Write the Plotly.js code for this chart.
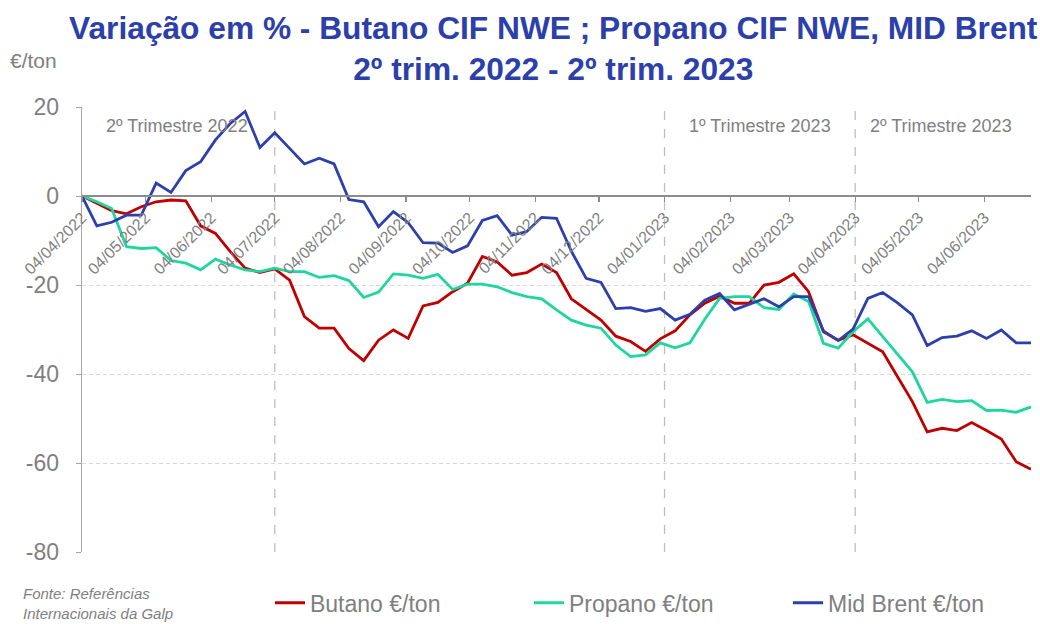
<!DOCTYPE html>
<html>
<head>
<meta charset="utf-8">
<script src="https://cdn.plot.ly/plotly-3.0.1.min.js"></script>
<style>html,body{margin:0;padding:0;background:#fff;}#chart{width:1040px;height:624px;}</style>
</head>
<body>
<div id="chart"></div>
<script>
// Weekly dates
const dates = [
 '2022-04-04','2022-04-11','2022-04-18','2022-04-25',
 '2022-05-02','2022-05-09','2022-05-16','2022-05-23','2022-05-30',
 '2022-06-06','2022-06-13','2022-06-20','2022-06-27',
 '2022-07-04','2022-07-11','2022-07-18','2022-07-25',
 '2022-08-01','2022-08-08','2022-08-15','2022-08-22','2022-08-29',
 '2022-09-05','2022-09-12','2022-09-19','2022-09-26',
 '2022-10-03','2022-10-10','2022-10-17','2022-10-24','2022-10-31',
 '2022-11-07','2022-11-14','2022-11-21','2022-11-28',
 '2022-12-05','2022-12-12','2022-12-19','2022-12-26',
 '2023-01-02','2023-01-09','2023-01-16','2023-01-23','2023-01-30',
 '2023-02-06','2023-02-13','2023-02-20','2023-02-27',
 '2023-03-06','2023-03-13','2023-03-20','2023-03-27',
 '2023-04-03','2023-04-10','2023-04-17','2023-04-24',
 '2023-05-01','2023-05-08','2023-05-15','2023-05-22','2023-05-29',
 '2023-06-05','2023-06-12','2023-06-19','2023-06-26'
];

const butano = [0, -1.7, -3.3, -4.0, -2.4, -1.3, -0.9, -1.1, -6.7, -8.4, -12.5, -16.2, -17.2, -16.4, -18.9, -27.1, -29.7, -29.7, -34.3, -37.0, -32.4, -30.1, -32.0, -24.7, -23.9, -21.5, -19.6, -13.6, -14.8, -17.8, -17.2, -15.3, -17.2, -23.1, -25.5, -27.9, -31.5, -32.7, -34.9, -32.1, -30.3, -26.7, -24.1, -22.5, -24.1, -24.1, -20.0, -19.4, -17.5, -21.5, -30.5, -32.4, -31.2, -33.1, -35.0, -40.6, -46.2, -53.0, -52.2, -52.7, -50.9, -52.7, -54.6, -59.7, -61.4];

const propano = [0, -1.3, -2.8, -11.4, -11.8, -11.6, -14.5, -15.1, -16.6, -14.2, -15.5, -16.6, -17.0, -16.2, -17.0, -17.0, -18.3, -17.9, -19.0, -22.8, -21.6, -17.5, -17.8, -18.5, -17.6, -21.0, -19.8, -19.8, -20.4, -21.7, -22.6, -23.1, -25.6, -27.9, -29.0, -29.7, -33.5, -36.1, -35.7, -33.0, -34.1, -33.0, -27.7, -23.0, -22.6, -22.6, -25.1, -25.5, -22.0, -23.7, -33.1, -34.2, -30.5, -27.6, -31.6, -35.5, -39.5, -46.4, -45.7, -46.2, -46.0, -48.2, -48.1, -48.6, -47.4];

const brent = [0, -6.7, -5.9, -4.3, -4.3, 2.9, 0.8, 5.7, 7.7, 12.6, 16.3, 19.0, 10.9, 14.2, 10.7, 7.2, 8.5, 7.2, -0.8, -1.3, -6.9, -3.5, -6.0, -10.5, -10.6, -12.7, -11.2, -5.5, -4.4, -8.8, -8.0, -4.8, -5.0, -12.4, -18.5, -19.4, -25.3, -25.1, -25.9, -25.3, -27.9, -26.6, -23.4, -21.9, -25.6, -24.3, -23.1, -24.9, -22.6, -22.6, -30.3, -32.5, -29.9, -23.0, -21.7, -24.0, -26.7, -33.6, -31.8, -31.5, -30.3, -32.0, -30.1, -33.0, -33.0];

const seriesNames = ['Butano €/ton', 'Propano €/ton', 'Mid Brent €/ton'];

const tickDates = ['2022-04-04','2022-05-04','2022-06-04','2022-07-04','2022-08-04','2022-09-04','2022-10-04','2022-11-04','2022-12-04','2023-01-04','2023-02-04','2023-03-04','2023-04-04','2023-05-04','2023-06-04'];
const tickLabels = ['04/04/2022','04/05/2022','04/06/2022','04/07/2022','04/08/2022','04/09/2022','04/10/2022','04/11/2022','04/12/2022','04/01/2023','04/02/2023','04/03/2023','04/04/2023','04/05/2023','04/06/2023'];

const yTickVals = [20, 0, -20, -40, -60, -80];
const yTickLabels = ['20', '0', '-20', '-40', '-60', '-80'];

const quarterLines = ['2022-07-04', '2023-01-04', '2023-04-04'];
const quarterLabels = ['2º Trimestre 2022', '1º Trimestre 2023', '2º Trimestre 2023'];

const titleText = 'Variação em % - Butano CIF NWE ; Propano CIF NWE, MID Brent<br>2º trim. 2022 - 2º trim. 2023';
const unitText = '€/ton';
const sourceText = '<i>Fonte: Referências<br>Internacionais da Galp</i>';

const colors = ['#C00000', '#1ED69E', '#2C3FAA'];
const FONT = 'Liberation Sans, Arial, sans-serif';
const GREY = '#808080';

const traces = [butano, propano, brent].map((ys, i) => ({
  type: 'scatter', mode: 'lines', x: dates, y: ys, name: seriesNames[i],
  line: {color: colors[i], width: 2.8}
}));

const shapes = quarterLines.map(d => ({
  type: 'line', xref: 'x', yref: 'paper', x0: d, x1: d, y0: 0, y1: 1.01,
  line: {color: '#bfbfbf', width: 1.3, dash: 'dash'}, layer: 'below'
}));

const labelX = [0.0996, 0.714, 0.905];
const annotations = quarterLabels.map((t, i) => ({
  text: t, xref: 'paper', yref: 'paper', x: labelX[i], y: 0.957,
  xanchor: 'center', yanchor: 'middle', showarrow: false,
  font: {family: FONT, size: 18, color: GREY}
}));
annotations.push({
  text: unitText, xref: 'paper', yref: 'paper', x: -0.0775, y: 1.105,
  xanchor: 'left', yanchor: 'middle', showarrow: false,
  font: {family: FONT, size: 21, color: GREY}
});
annotations.push({
  text: sourceText, xref: 'paper', yref: 'paper', x: -0.0646, y: -0.115,
  xanchor: 'left', yanchor: 'middle', showarrow: false, align: 'left',
  font: {family: FONT, size: 15, color: GREY}
});

const layout = {
  width: 1040, height: 624,
  margin: {l: 82, r: 9, t: 107, b: 72},
  paper_bgcolor: '#ffffff', plot_bgcolor: '#ffffff',
  showlegend: true,
  title: {
    text: titleText, x: 0.532, xanchor: 'center', y: 0.938, yanchor: 'top',
    xref: 'container', yref: 'container',
    font: {family: FONT, size: 31.7, color: '#2C3FAA', weight: 'bold'}
  },
  xaxis: {
    type: 'date', range: ['2022-04-04', '2023-06-26'],
    tickmode: 'array', tickvals: tickDates, ticktext: tickLabels,
    tickangle: -45, tickfont: {family: FONT, size: 16, color: GREY},
    ticks: 'outside', ticklen: 5, tickcolor: '#8c8c8c', tickwidth: 1.3,
    showline: true, linecolor: '#8c8c8c', linewidth: 2,
    showgrid: false, zeroline: false,
    anchor: 'free', position: 0.8, fixedrange: true
  },
  yaxis: {
    range: [-80, 20], tickmode: 'array', tickvals: yTickVals, ticktext: yTickLabels,
    tickfont: {family: FONT, size: 23, color: GREY},
    ticks: 'outside', ticklen: 5, tickcolor: '#a6a6a6', ticklabelstandoff: 12,
    showline: true, linecolor: '#a6a6a6', linewidth: 1.3,
    showgrid: true, gridcolor: '#d9d9d9', griddash: '4px,3px', gridwidth: 1,
    zeroline: false, fixedrange: true
  },
  legend: {
    orientation: 'h', xref: 'container', yref: 'container',
    x: 0.2596, y: 0.034, xanchor: 'left', yanchor: 'middle',
    font: {family: FONT, size: 23, color: GREY},
    entrywidth: 214, itemwidth: 30, bgcolor: 'rgba(0,0,0,0)', borderwidth: 0
  },
  shapes: shapes,
  annotations: annotations
};

Plotly.newPlot('chart', traces, layout, {staticPlot: true, displayModeBar: false});
</script>
</body>
</html>
